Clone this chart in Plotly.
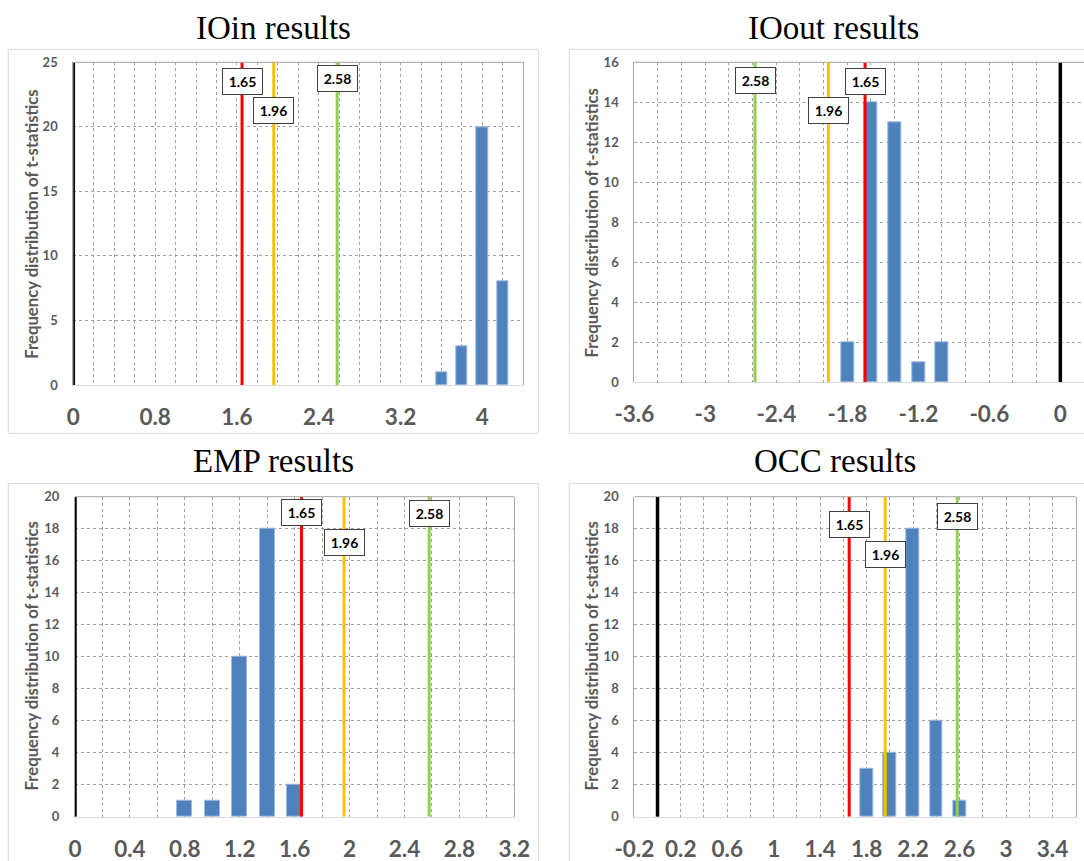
import plotly.graph_objects as go

W, H = 1084, 861

# ---------------- data ----------------
titles = ["IOin results", "IOout results", "EMP results", "OCC results"]

ioin_bins = [3.6, 3.8, 4.0, 4.2]
ioin_counts = [1, 3, 20, 8]
ioout_bins = [-1.8, -1.6, -1.4, -1.2, -1.0]
ioout_counts = [2, 14, 13, 1, 2]
emp_bins = [0.8, 1.0, 1.2, 1.4, 1.6]
emp_counts = [1, 1, 10, 18, 2]
occ_bins = [1.8, 2.0, 2.2, 2.4, 2.6]
occ_counts = [3, 4, 18, 6, 1]

crit_values = [1.65, 1.96, 2.58]
crit_labels = ["1.65", "1.96", "2.58"]
crit_sign = [1, -1, 1, 1]          # IOout uses negative critical values

ioin_xticks = [0, 0.8, 1.6, 2.4, 3.2, 4]
ioin_xticklabels = ["0", "0.8", "1.6", "2.4", "3.2", "4"]
ioout_xticks = [-3.6, -3, -2.4, -1.8, -1.2, -0.6, 0]
ioout_xticklabels = ["-3.6", "-3", "-2.4", "-1.8", "-1.2", "-0.6", "0"]
emp_xticks = [0, 0.4, 0.8, 1.2, 1.6, 2, 2.4, 2.8, 3.2]
emp_xticklabels = ["0", "0.4", "0.8", "1.2", "1.6", "2", "2.4", "2.8", "3.2"]
occ_xticks = [-0.2, 0.2, 0.6, 1, 1.4, 1.8, 2.2, 2.6, 3, 3.4]
occ_xticklabels = ["-0.2", "0.2", "0.6", "1", "1.4", "1.8", "2.2", "2.6", "3", "3.4"]

ytitle = "Frequency distribution of t-statistics"

# ---------------- layout / styling ----------------
panels = [
    dict(bins=ioin_bins, counts=ioin_counts, xt=ioin_xticks, xl=ioin_xticklabels,
         xr=[0, 4.4], yr=[0, 25], dy=5),
    dict(bins=ioout_bins, counts=ioout_counts, xt=ioout_xticks, xl=ioout_xticklabels,
         xr=[-3.6, 0.2], yr=[0, 16], dy=2),
    dict(bins=emp_bins, counts=emp_counts, xt=emp_xticks, xl=emp_xticklabels,
         xr=[0, 3.2], yr=[0, 20], dy=2),
    dict(bins=occ_bins, counts=occ_counts, xt=occ_xticks, xl=occ_xticklabels,
         xr=[-0.2, 3.6], yr=[0, 20], dy=2),
]
# plot areas in pixels: left, right, top, bottom
plot_px = [(73.3, 523.3, 62.3, 385.0), (634.3, 1084.0, 62.3, 382.3),
           (75.0, 514.3, 496.7, 816.7), (634.3, 1075.7, 496.7, 816.7)]
box_px = [(8.3, 538.3, 49.3, 433.3), (569.3, 1110, 49.3, 433.3),
          (8.3, 538.3, 483.3, 890), (569.3, 1110, 483.3, 890)]
title_px = [(273, 28), (833, 28), (273, 461), (834.5, 461)]
ytitle_px = [(31.7, 224), (591.7, 222.8), (31.7, 655.8), (591.7, 655.8)]
label_y = [[23.5, 21.3, 23.76], [15.03, 13.57, 15.07],
           [19.0, 17.15, 18.96], [18.29, 16.36, 18.75]]
crit_colors = ["#FF0000", "#FFC000", "#92D050"]

GRAY = "#595959"
GRID = "#a0a0a0"
FONT = "Lato"

fig = go.Figure()
shapes = []
annotations = []

def px(x):
    return x / W

def py(y):
    return 1 - y / H

for i, p in enumerate(panels):
    sfx = "" if i == 0 else str(i + 1)
    xa, ya = "x" + sfx, "y" + sfx
    l, r, t, b = plot_px[i]

    fig.add_trace(go.Bar(
        x=p["bins"], y=p["counts"], width=0.11, xaxis=xa, yaxis=ya,
        marker=dict(color="#4F81BD", line=dict(color="#9fb9dc", width=1)),
        showlegend=False, hoverinfo="skip"))

    ytop = p["yr"][1]
    # zero line
    fig.add_trace(go.Scatter(
        x=[0, 0], y=[0, ytop], mode="lines", xaxis=xa, yaxis=ya,
        line=dict(color="#000000", width=3.5), cliponaxis=False,
        showlegend=False, hoverinfo="skip"))
    for k, v in enumerate(crit_values):
        xv = crit_sign[i] * v
        fig.add_trace(go.Scatter(
            x=[xv, xv], y=[0, ytop], mode="lines", xaxis=xa, yaxis=ya,
            line=dict(color=crit_colors[k], width=3), cliponaxis=False,
            showlegend=False, hoverinfo="skip"))
        annotations.append(dict(
            x=xv, y=label_y[i][k], xref=xa, yref=ya, text=crit_labels[k],
            showarrow=False, bgcolor="white", bordercolor="#404040",
            borderwidth=1, borderpad=4, width=31, height=17,
            font=dict(family=FONT, size=14, color="black", weight="bold")))

    axis_common = dict(showgrid=True, gridcolor=GRID, griddash="dot", gridwidth=1,
                       zeroline=False, ticks="", automargin=False)
    fig.update_layout(**{
        ("xaxis" + sfx): dict(
            domain=[px(l), px(r)], range=p["xr"], anchor=ya,
            tickmode="array", tickvals=p["xt"], ticktext=p["xl"],
            tickfont=dict(family=FONT, size=22.5, color=GRAY, weight="bold"),
            ticklabelstandoff=12,
            showline=True, linecolor="#d9d9d9", linewidth=1,
            minor=dict(tickmode="linear", tick0=p["xr"][0], dtick=0.2,
                       showgrid=True, gridcolor=GRID, griddash="dot", gridwidth=1,
                       ticks=""),
            **axis_common),
        ("yaxis" + sfx): dict(
            domain=[py(b), py(t)], range=p["yr"], anchor=xa,
            tickmode="linear", tick0=0, dtick=p["dy"],
            tickfont=dict(family=FONT, size=13, color=GRAY, weight="bold"),
            ticklabelstandoff=12,
            showline=True, linecolor="#a6a6a6", linewidth=1, mirror=(i != 1),
            **axis_common),
    })

    # top border of plot area
    shapes.append(dict(type="line", xref="paper", yref="paper",
                       x0=px(l), x1=px(r), y0=py(t), y1=py(t),
                       line=dict(color="#a6a6a6", width=1), layer="above"))
    # chart area box
    bl, br, bt, bb = box_px[i]
    shapes.append(dict(type="rect", xref="paper", yref="paper",
                       x0=px(bl), x1=px(br), y0=py(bb), y1=py(bt),
                       line=dict(color="#d9d9d9", width=1), layer="below"))
    # panel title
    tx, ty = title_px[i]
    annotations.append(dict(x=px(tx), y=py(ty), xref="paper", yref="paper",
                            text=titles[i], showarrow=False,
                            xanchor="center", yanchor="middle",
                            font=dict(family="Liberation Serif", size=33, color="black")))
    # y axis title
    yx, yy = ytitle_px[i]
    annotations.append(dict(x=px(yx), y=py(yy), xref="paper", yref="paper",
                            text=ytitle, showarrow=False, textangle=-90,
                            xanchor="center", yanchor="middle",
                            font=dict(family=FONT, size=16.7, color=GRAY, weight="bold")))

fig.update_layout(
    width=W, height=H, autosize=False,
    margin=dict(l=0, r=0, t=0, b=0, autoexpand=False),
    paper_bgcolor="white", plot_bgcolor="white",
    shapes=shapes, annotations=annotations,
    showlegend=False, bargap=0,
)

fig.write_html(
    "out.html",
    config={"displayModeBar": False},
    post_script="document.body.style.margin='0';document.body.style.overflow='hidden';",
)
